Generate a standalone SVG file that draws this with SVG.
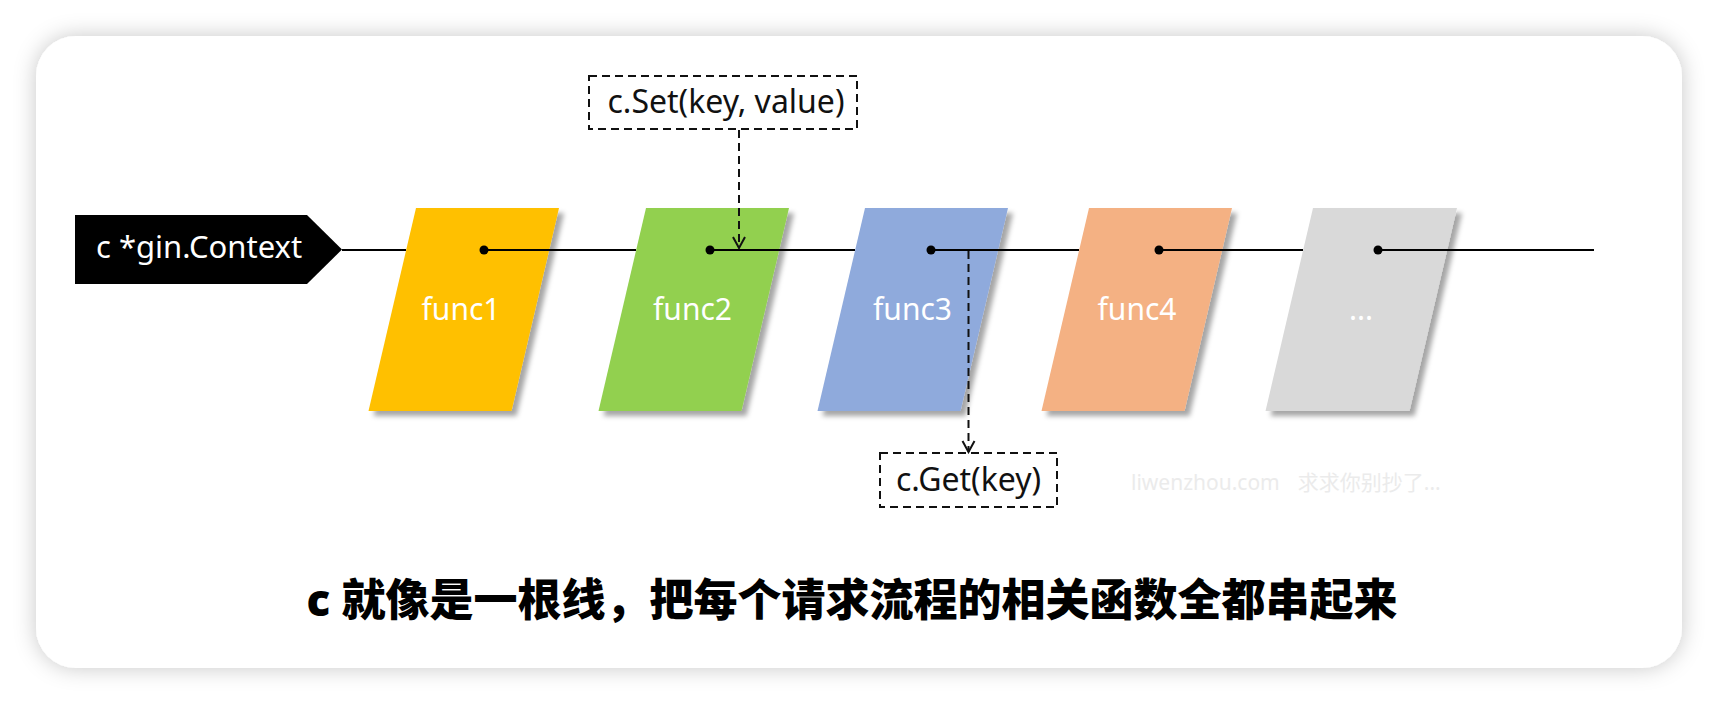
<svg xmlns="http://www.w3.org/2000/svg" width="1718" height="704" viewBox="0 0 1718 704">
<style>
.lbl{font-family:"Noto Sans","Liberation Sans",sans-serif;font-size:30px;fill:#fff;text-anchor:middle}
.code{font-family:"Noto Sans","Liberation Sans",sans-serif;font-size:32px;fill:#111}
.dash{fill:none;stroke:#111;stroke-width:2;stroke-dasharray:8 5}
.wire{stroke:#000;stroke-width:2;fill:none}
.dot{fill:#000}
.shape{filter:url(#sh)}
</style>
<defs>
<filter id="card" x="-10%" y="-10%" width="120%" height="120%">
<feDropShadow dx="0" dy="0" stdDeviation="11" flood-color="#000" flood-opacity="0.22"/>
</filter>
<filter id="sh" x="-20%" y="-20%" width="150%" height="150%">
<feDropShadow dx="5" dy="5" stdDeviation="2.5" flood-color="#000" flood-opacity="0.35"/>
</filter>
<marker id="arr" viewBox="-13 -8 15 16" refX="0" refY="0" markerWidth="15" markerHeight="16" markerUnits="userSpaceOnUse" orient="auto">
<path d="M-11,-6 L0,0 L-11,6" fill="none" stroke="#111" stroke-width="2"/>
</marker>
</defs>
<rect width="1718" height="704" fill="#fff"/>
<rect x="36" y="36" width="1646" height="632" rx="40" fill="#fff" filter="url(#card)"/>

<g id="ctx">
<path d="M75,215 L307,215 L342,249.5 L307,284 L75,284 Z" fill="#000"/>
<text x="96" y="258" font-family="Noto Sans, Liberation Sans, sans-serif" font-size="31" fill="#fff">c *gin.Context</text>
</g>

<g id="func1"><path class="shape" d="M416,208 L559,208 L511.5,411 L368.5,411 Z" fill="#FFC000"/><text class="lbl" x="461" y="320">func1</text></g>
<g id="func2"><path class="shape" d="M646,208 L789,208 L741.5,411 L598.5,411 Z" fill="#92D050"/><text class="lbl" x="692.5" y="320">func2</text></g>
<g id="func3"><path class="shape" d="M865,208 L1008,208 L960.5,411 L817.5,411 Z" fill="#8FAADC"/><text class="lbl" x="912.5" y="320">func3</text></g>
<g id="func4"><path class="shape" d="M1089,208 L1232,208 L1184.5,411 L1041.5,411 Z" fill="#F4B183"/><text class="lbl" x="1137" y="320">func4</text></g>
<g id="more"><path class="shape" d="M1313,208 L1457,208 L1409.5,411 L1265.5,411 Z" fill="#D9D9D9"/><text class="lbl" x="1361" y="320">...</text></g>

<g id="set">
<rect class="dash" x="589" y="76" width="268" height="53"/>
<text class="code" x="726" y="113" text-anchor="middle">c.Set(key, value)</text>
</g>
<g id="get">
<rect class="dash" x="880" y="453" width="177" height="54"/>
<text class="code" x="968.5" y="491" text-anchor="middle">c.Get(key)</text>
</g>

<g id="connectors">
<path class="wire" d="M342,250 H406 M484,250 H636 M710,250 H855 M931,250 H1079 M1159,250 H1303 M1378,250 H1594"/>
<circle class="dot" cx="484" cy="250" r="4.5"/>
<circle class="dot" cx="710" cy="250" r="4.5"/>
<circle class="dot" cx="931" cy="250" r="4.5"/>
<circle class="dot" cx="1159" cy="250" r="4.5"/>
<circle class="dot" cx="1378" cy="250" r="4.5"/>
<path class="dash" d="M739,130 V248" marker-end="url(#arr)"/>
<path class="dash" d="M968.5,251 V452" marker-end="url(#arr)"/>
</g>

<text x="1131" y="490" font-family="Noto Sans, Noto Sans CJK SC, sans-serif" font-size="21" fill="#ebebeb">liwenzhou.com<tspan dx="18">求求你别抄了...</tspan></text>
<text x="852" y="616" text-anchor="middle" font-family="Noto Sans, Noto Sans CJK SC, sans-serif" font-size="44" font-weight="900" fill="#000">c 就像是一根线，把每个请求流程的相关函数全都串起来</text>
</svg>
